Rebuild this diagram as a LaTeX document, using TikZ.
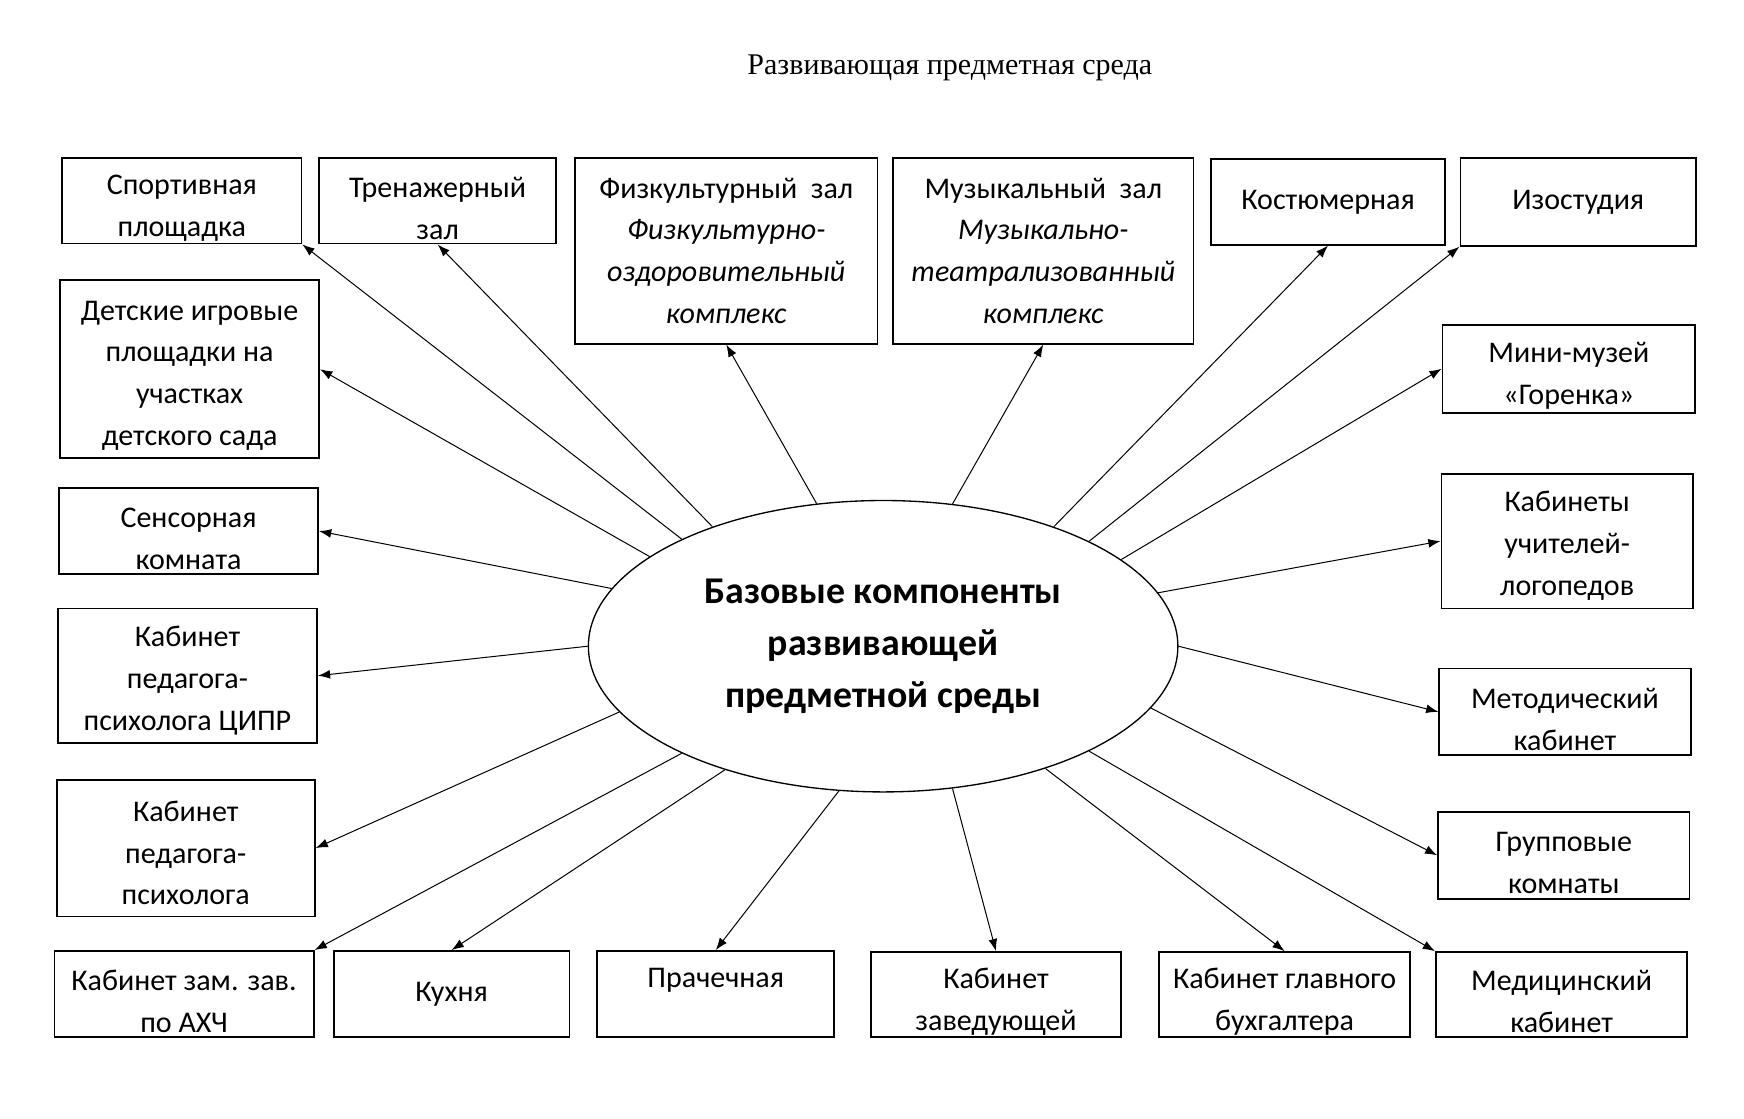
\documentclass[tikz,border=0pt]{standalone}
\usepackage{fontspec}
\setmainfont{Carlito}
\newfontfamily\titlefont{Liberation Serif}
\usepackage{tikz}
\usetikzlibrary{arrows.meta,positioning,shapes.geometric}

\begin{document}
\begin{tikzpicture}[
x=0.5pt, y=-0.5pt,
block/.style={draw, line width=0.8pt, inner xsep=2pt, inner ysep=0pt, align=center, font=\fontsize{13.5pt}{18.75pt}\selectfont},
rows2/.style={text height=34.5pt},
rows3/.style={text height=51pt},
rows4/.style={text height=70.5pt},
hub/.style={draw, ellipse, line width=0.6pt, inner sep=0pt, minimum width=265pt, minimum height=131pt, align=center, font=\fontsize{17pt}{23.75pt}\selectfont\bfseries},
arrow/.style={-{Latex[length=5.5pt,width=4pt]}, line width=0.45pt}
]
\useasboundingbox (0,0) rectangle (1568,1006);
\node[font=\titlefont\fontsize{13.5pt}{16pt}\selectfont] (title) at (854,61) {Развивающая предметная среда};
\node[hub] (base) at (794,581) {Базовые компоненты\\[-0.5pt]развивающей\\[-0.5pt]предметной среды};
% top row
\node[block, rows2, minimum width=107.5pt, minimum height=38.5pt] (sport) at (163.5,180.5) {Спортивная\\площадка};
\node[block, rows2, minimum width=106.5pt, minimum height=38.5pt] (tren) at (393.5,180.5) {Тренажерный\\зал};
\node[block, minimum width=136pt, minimum height=83.5pt] (fiz) at (653,225.5) {Физкультурный\ \ зал\\\itshape Физкультурно-\\\itshape оздоровительный\\\itshape комплекс};
\node[block, minimum width=135pt, minimum height=83.5pt] (muz) at (938,225.5) {Музыкальный\ \ зал\\\itshape Музыкально-\\\itshape театрализованный\\\itshape комплекс};
\node[block, minimum width=105pt, minimum height=38.5pt] (kost) at (1194,181.5) {Костюмерная};
\node[block, minimum width=106pt, minimum height=39.5pt] (izo) at (1419,181.5) {Изостудия};
% left column
\node[block, rows4, minimum width=116.5pt, minimum height=80pt] (det) at (170.5,332) {Детские игровые\\площадки на\\участках\\детского сада};
\node[block, rows2, minimum width=116.5pt, minimum height=38.5pt] (sens) at (169.5,477.5) {Сенсорная\\комната};
\node[block, rows3, minimum width=116.5pt, minimum height=60.5pt] (cipr) at (168.5,607.5) {Кабинет\\педагога-\\психолога ЦИПР};
\node[block, rows3, minimum width=116pt, minimum height=61.5pt] (psy) at (167,762.5) {Кабинет\\педагога-\\психолога};
% bottom row
\node[block, rows2, minimum width=116.5pt, minimum height=38.5pt] (zam) at (165.5,893.5) {Кабинет зам. зав.\\по АХЧ};
\node[block, minimum width=106pt, minimum height=38.5pt] (kuh) at (406,893.5) {Кухня};
\node[block, minimum width=106.5pt, minimum height=38.5pt, text depth=14pt] (prach) at (643.5,893.5) {Прачечная};
\node[block, rows2, minimum width=112.5pt, minimum height=38pt] (zav) at (895.5,894) {Кабинет\\заведующей};
\node[block, rows2, minimum width=113pt, minimum height=38pt] (buh) at (1155,894) {Кабинет главного\\бухгалтера};
\node[block, rows2, minimum width=113pt, minimum height=38pt] (med) at (1404,894) {Медицинский\\кабинет};
% right column
\node[block, rows2, minimum width=113.5pt, minimum height=39.5pt] (muzey) at (1410.5,331.5) {Мини-музей\\«Горенка»};
\node[block, rows3, minimum width=113pt, minimum height=60.5pt] (logo) at (1409,486.5) {Кабинеты\\учителей-\\логопедов};
\node[block, rows2, minimum width=113pt, minimum height=39pt] (metod) at (1407,640) {Методический\\кабинет};
\node[block, rows2, minimum width=113pt, minimum height=39pt] (grup) at (1406,769) {Групповые\\комнаты};
% connectors
\draw[arrow] (base.152.4) -- (sport.south east);
\draw[arrow] (base.145) -- (tren.south);
\draw[arrow] (base.115) -- (fiz.south);
\draw[arrow] (base.64) -- (muz.south);
\draw[arrow] (base.35.2) -- (kost.south);
\draw[arrow] (base.27.3) -- (izo.south west);
\draw[arrow] (base.20.1) -- (muzey.west);
\draw[arrow] (base.11.9) -- (logo.west);
\draw[arrow] (base.-0.5) -- (metod.west);
\draw[arrow] (base.-13.4) -- (grup.west);
\draw[arrow] (base.-27.9) -- (med.north west);
\draw[arrow] (base.-37.6) -- (buh.north);
\draw[arrow] (base.-64.7) -- (zav.north);
\draw[arrow] (base.-107.8) -- (prach.north);
\draw[arrow] (base.-142.4) -- (kuh.north);
\draw[arrow] (base.-152.4) -- (zam.north east);
\draw[arrow] (base.-166.9) -- (psy.east);
\draw[arrow] (base.180) -- (cipr.east);
\draw[arrow] (base.168) -- (sens.east);
\draw[arrow] (base.159.7) -- (det.east);
\end{tikzpicture}
\end{document}
